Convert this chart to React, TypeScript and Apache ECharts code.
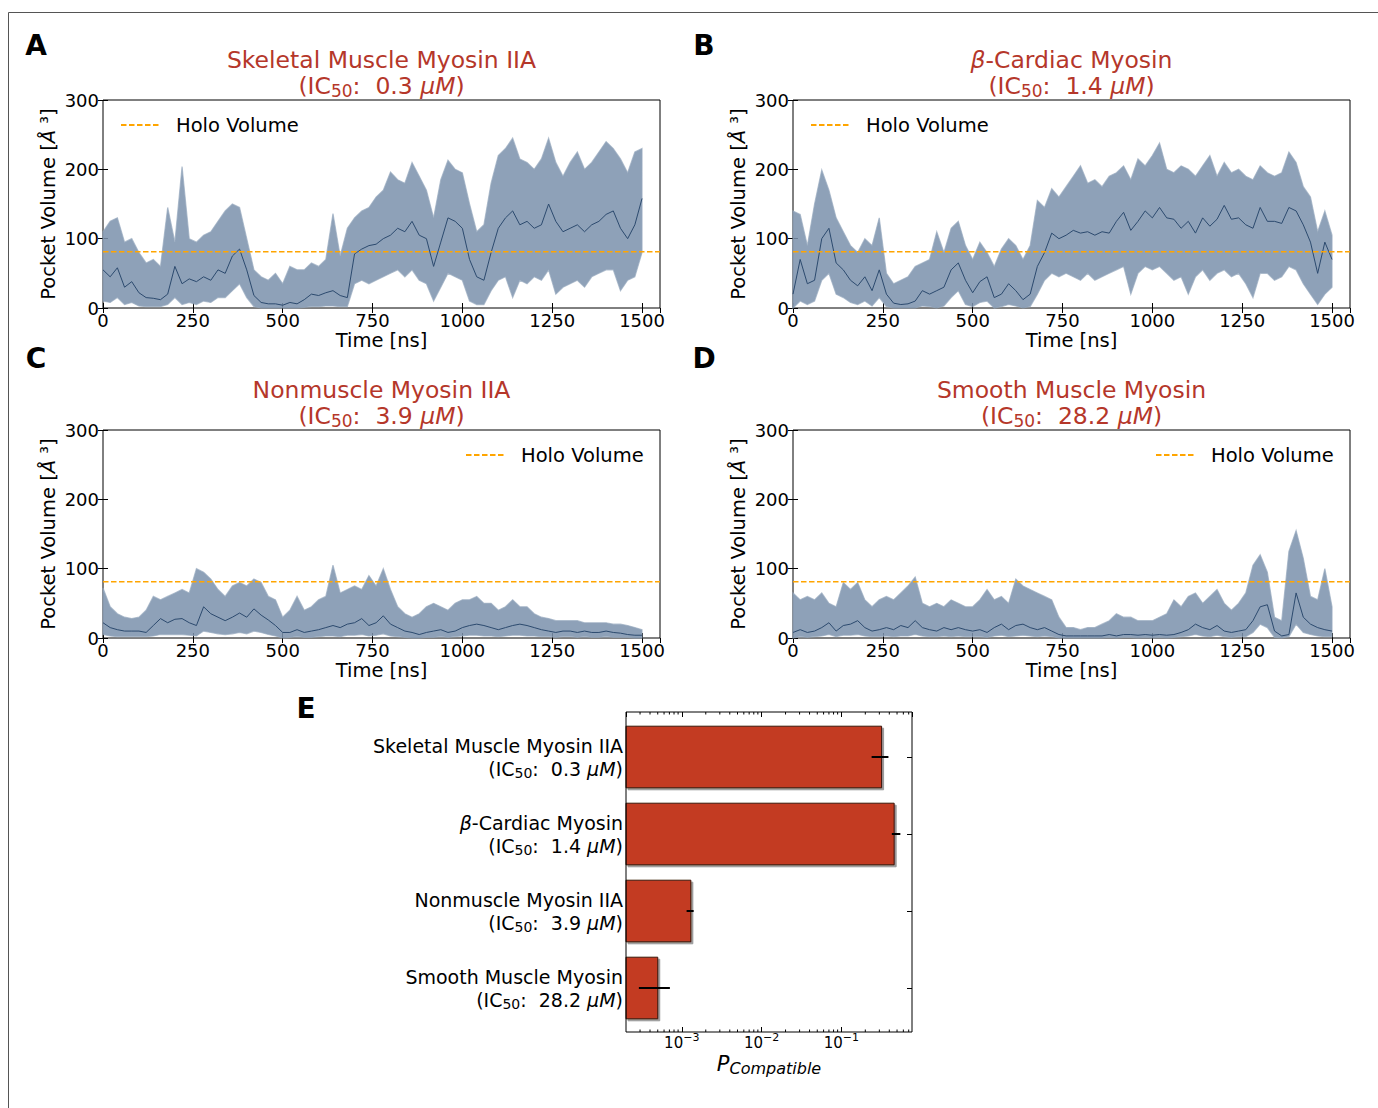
import React, { useEffect, useRef } from 'react';
import * as echarts from 'echarts';

// ---------- data ----------
const TIME_NS = [
  0, 20, 40, 60, 80, 100, 120, 140, 160, 180,
  200, 220, 240, 260, 280, 300, 320, 340, 360, 380,
  400, 420, 440, 460, 480, 500, 520, 540, 560, 580,
  600, 620, 640, 660, 680, 700, 720, 740, 760, 780,
  800, 820, 840, 860, 880, 900, 920, 940, 960, 980,
  1000, 1020, 1040, 1060, 1080, 1100, 1120, 1140, 1160, 1180,
  1200, 1220, 1240, 1260, 1280, 1300, 1320, 1340, 1360, 1380,
  1400, 1420, 1440, 1460, 1480, 1500,
];

const HOLO_VOLUME = 81;

// Panel A: Skeletal Muscle Myosin IIA
const A_MEAN = [
  55, 45, 58, 30, 38, 22, 15, 14, 12, 20,
  60, 35, 42, 38, 45, 40, 55, 50, 75, 85,
  55, 18, 8, 6, 6, 4, 8, 6, 12, 20,
  18, 22, 25, 18, 15, 78, 85, 90, 92, 100,
  105, 115, 110, 125, 105, 100, 60, 95, 130, 125,
  115, 70, 45, 40, 80, 115, 130, 140, 120, 125,
  115, 120, 150, 125, 110, 115, 120, 110, 120, 125,
  135, 140, 115, 100, 120, 158,
];
const A_HI = [
  110, 125, 130, 95, 100, 80, 65, 70, 60, 145,
  95, 204, 100, 95, 105, 110, 125, 140, 150, 145,
  100, 55, 45, 40, 50, 35, 60, 55, 55, 65,
  60, 70, 136, 75, 115, 130, 140, 145, 160, 170,
  196, 185, 180, 210, 190, 170, 130, 185, 213, 200,
  195, 150, 110, 120, 180, 220, 230, 245, 215, 210,
  200, 215, 245, 210, 190, 210, 225, 200, 210, 225,
  240, 230, 215, 195, 225, 230,
];
const A_LO = [
  10, 8, 15, 5, 8, 3, 2, 2, 2, 5,
  15, 5, 8, 5, 10, 8, 15, 15, 25, 35,
  15, 2, 0, 0, 0, 0, 0, 0, 1, 2,
  2, 3, 3, 2, 2, 35, 40, 35, 40, 45,
  50, 55, 45, 55, 40, 35, 10, 30, 50, 45,
  40, 10, 5, 5, 25, 40, 45, 15, 40, 35,
  45, 40, 55, 20, 30, 35, 40, 30, 45, 50,
  55, 55, 25, 40, 45, 80,
];

// Panel B: beta-Cardiac Myosin
const B_MEAN = [
  20, 70, 35, 40, 100, 115, 65, 55, 40, 32,
  45, 25, 55, 20, 7, 5, 6, 10, 25, 20,
  25, 30, 55, 65, 40, 22, 38, 45, 15, 20,
  35, 25, 12, 20, 60, 80, 108, 100, 105, 112,
  108, 110, 105, 110, 108, 125, 138, 112, 125, 140,
  130, 145, 130, 128, 115, 125, 108, 130, 118, 128,
  148, 128, 130, 120, 115, 145, 125, 125, 122, 145,
  140, 120, 95, 50, 95, 70,
];
const B_HI = [
  140, 135, 90, 150, 199, 170, 130, 110, 90, 80,
  100, 90, 130, 50, 35, 40, 45, 60, 65, 70,
  110, 80, 115, 125, 90, 70, 95, 80, 60, 85,
  100, 90, 70, 90, 155, 145, 172, 160, 175, 190,
  205, 180, 185, 175, 190, 195, 205, 185, 215, 205,
  220, 238, 200, 195, 205, 200, 190, 205, 220, 190,
  210, 195, 200, 190, 185, 205, 195, 190, 195, 225,
  210, 175, 160, 110, 140, 105,
];
const B_LO = [
  0, 10, 5, 10, 40, 50, 20, 15, 8, 5,
  10, 3, 15, 2, 0, 0, 0, 0, 3, 2,
  0, 3, 15, 25, 5, 2, 8, 10, 0, 2,
  5, 3, 0, 2, 20, 40, 50, 45, 50, 45,
  40, 50, 40, 45, 50, 55, 60, 20, 50, 60,
  55, 60, 50, 40, 45, 20, 45, 55, 40, 50,
  55, 45, 50, 35, 15, 50, 50, 40, 45, 60,
  55, 35, 20, 5, 20, 30,
];

// Panel C: Nonmuscle Myosin IIA
const C_MEAN = [
  22, 15, 12, 10, 10, 10, 8, 18, 28, 22,
  27, 28, 22, 18, 45, 35, 30, 25, 30, 36,
  30, 42, 33, 26, 18, 8, 8, 12, 8, 10,
  12, 15, 18, 15, 20, 22, 28, 18, 22, 32,
  20, 15, 10, 8, 5, 8, 10, 12, 8, 10,
  15, 18, 20, 18, 15, 12, 15, 18, 20, 18,
  15, 12, 10, 8, 10, 10, 8, 10, 8, 8,
  10, 8, 7, 5, 4, 4,
];
const C_HI = [
  72, 45, 35, 30, 28, 30, 40, 60, 55, 60,
  65, 70, 65, 100, 95, 85, 70, 60, 75, 80,
  75, 85, 80, 60, 55, 30, 40, 60, 40, 45,
  55, 60, 105, 65, 70, 75, 70, 90, 75, 100,
  70, 45, 35, 30, 35, 45, 50, 45, 40, 50,
  55, 55, 60, 50, 50, 40, 45, 55, 45, 45,
  35, 30, 28, 25, 25, 25, 25, 22, 22, 22,
  22, 20, 20, 18, 15, 12,
];
const C_LO = [
  5, 3, 2, 2, 2, 2, 2, 3, 5, 5,
  5, 5, 4, 3, 10, 8, 6, 5, 6, 8,
  6, 10, 8, 5, 3, 0, 1, 2, 1, 1,
  2, 3, 3, 2, 4, 4, 5, 3, 4, 6,
  3, 2, 1, 0, 0, 1, 1, 2, 1, 2,
  3, 4, 4, 3, 3, 2, 3, 4, 4, 3,
  3, 2, 2, 1, 2, 2, 1, 2, 1, 1,
  2, 1, 1, 1, 0, 0,
];

// Panel D: Smooth Muscle Myosin
const D_MEAN = [
  8, 12, 8, 10, 15, 22, 10, 18, 20, 25,
  15, 10, 12, 15, 12, 18, 15, 25, 15, 12,
  10, 15, 12, 15, 12, 10, 12, 8, 15, 20,
  12, 18, 20, 15, 12, 15, 10, 5, 3, 3,
  3, 3, 3, 3, 5, 3, 5, 5, 4, 5,
  4, 5, 4, 5, 8, 12, 20, 15, 12, 18,
  10, 8, 10, 12, 25, 45, 48, 10, 3, 5,
  65, 30, 20, 15, 12, 10,
];
const D_HI = [
  65, 55, 60, 55, 65, 50, 45, 80, 70, 80,
  55, 45, 55, 60, 55, 65, 75, 88, 50, 45,
  50, 45, 55, 50, 45, 45, 55, 70, 55, 60,
  50, 85, 75, 70, 65, 60, 55, 30, 15, 15,
  12, 15, 15, 20, 25, 35, 30, 30, 25, 25,
  25, 30, 35, 55, 45, 60, 65, 50, 60, 70,
  50, 40, 50, 65, 105, 120, 95, 30, 25, 125,
  155, 115, 60, 55, 100, 45,
];
const D_LO = [
  0, 2, 1, 2, 3, 5, 2, 4, 4, 5,
  3, 2, 2, 3, 2, 3, 3, 5, 3, 2,
  2, 3, 2, 3, 2, 2, 2, 1, 3, 4,
  2, 3, 4, 3, 2, 3, 2, 0, 0, 0,
  0, 0, 0, 0, 1, 0, 1, 1, 0, 1,
  0, 1, 0, 1, 2, 3, 5, 3, 2, 4,
  2, 1, 2, 2, 8, 20, 15, 1, 0, 2,
  20, 8, 5, 3, 2, 2,
];

// Panel E: compatibility probability
const CATEGORY_NAMES = ['Skeletal Muscle Myosin IIA', 'β-Cardiac Myosin', 'Nonmuscle Myosin IIA', 'Smooth Muscle Myosin'];
const IC50_UM = ['0.3', '1.4', '3.9', '28.2'];
const P_COMPATIBLE = [0.32, 0.46, 0.0013, 0.0005];
const P_ERR_LO = [0.24, 0.43, 0.00115, 0.00029];
const P_ERR_HI = [0.39, 0.55, 0.00141, 0.00071];
const MINOR_MULTIPLIERS = [2, 3, 4, 5, 6, 7, 8, 9];
const MINOR_DECADES = [1e-4, 1e-3, 1e-2, 1e-1];

// axis ranges
const X_MIN = 0, X_MAX = 1550, X_INTERVAL = 250;
const Y_MIN = 0, Y_MAX = 300, Y_INTERVAL = 100;
const P_MIN = 2e-4, P_MAX = 0.77;

// ---------- styling ----------
const FONT = 'DejaVu Sans';
const TITLE_COLOR = '#b5372a';
const BAR_COLOR = '#c33b22';
const BAND_COLOR = 'rgba(124,145,172,0.86)';
const BAND_EDGE = 'rgba(150,168,190,0.7)';
const MEAN_COLOR = '#2c4a6e';
const HOLO_COLOR = '#ffa500';

const PANELS = [
  { letter: 'A', name: 'Skeletal Muscle Myosin IIA', ic50: '0.3', mean: A_MEAN, hi: A_HI, lo: A_LO },
  { letter: 'B', name: 'β-Cardiac Myosin', ic50: '1.4', mean: B_MEAN, hi: B_HI, lo: B_LO },
  { letter: 'C', name: 'Nonmuscle Myosin IIA', ic50: '3.9', mean: C_MEAN, hi: C_HI, lo: C_LO },
  { letter: 'D', name: 'Smooth Muscle Myosin', ic50: '28.2', mean: D_MEAN, hi: D_HI, lo: D_LO },
];

const LAYOUT = [
  { left: 103, top: 100, legendLeft: 120, letterX: 36, letterY: 45 },
  { left: 793, top: 100, legendLeft: 810, letterX: 704, letterY: 45 },
  { left: 103, top: 430, legendLeft: 465, letterX: 36, letterY: 358 },
  { left: 793, top: 430, legendLeft: 1155, letterX: 704, letterY: 358 },
];
const PLOT_W = 557, PLOT_H = 208;
const E_FRAME = { x: 626, y: 712, w: 286, h: 320 };

const richName = (s: string) => s.replace('β', '{i|β}');

function buildOption() {
  const grid: any[] = [];
  const xAxis: any[] = [];
  const yAxis: any[] = [];
  const series: any[] = [];
  const legend: any[] = [];
  const title: any[] = [];
  const graphic: any[] = [];

  PANELS.forEach((p, i) => {
    const L = LAYOUT[i];
    grid.push({ left: L.left, top: L.top, width: PLOT_W, height: PLOT_H, show: true, borderColor: '#000', borderWidth: 1, backgroundColor: 'transparent' });
    const tick = { show: true, inside: true, length: 5, lineStyle: { color: '#000', width: 1 } };
    xAxis.push({
      type: 'value', gridIndex: i, min: X_MIN, max: X_MAX, interval: X_INTERVAL, position: 'bottom',
      axisLine: { show: false }, axisTick: tick, splitLine: { show: false },
      axisLabel: { fontSize: 18, color: '#000', margin: 3, showMaxLabel: false, fontFamily: FONT, formatter: (v: number) => String(v) },
      name: 'Time [ns]', nameLocation: 'middle', nameGap: 22,
      nameTextStyle: { fontSize: 19.5, color: '#000', fontFamily: FONT },
    });
    xAxis.push({
      type: 'value', gridIndex: i, min: X_MIN, max: X_MAX, interval: X_INTERVAL, position: 'top',
      axisLine: { show: false }, axisTick: tick, splitLine: { show: false }, axisLabel: { show: false },
    });
    yAxis.push({
      type: 'value', gridIndex: i, min: Y_MIN, max: Y_MAX, interval: Y_INTERVAL, position: 'left',
      axisLine: { show: false }, axisTick: tick, splitLine: { show: false },
      axisLabel: { fontSize: 18, color: '#000', margin: 4, fontFamily: FONT, formatter: (v: number) => String(v) },
      name: 'Pocket Volume [{i|Å} ³]', nameLocation: 'middle', nameGap: 45, nameRotate: 90,
      nameTextStyle: {
        fontSize: 19.5, color: '#000', fontFamily: FONT,
        rich: { i: { fontStyle: 'italic', fontSize: 19.5, color: '#000', fontFamily: FONT } },
      },
    });
    yAxis.push({
      type: 'value', gridIndex: i, min: Y_MIN, max: Y_MAX, interval: Y_INTERVAL, position: 'right',
      axisLine: { show: false }, axisTick: tick, splitLine: { show: false }, axisLabel: { show: false },
    });

    const xi = 2 * i, yi = 2 * i;
    // raw-trajectory envelope drawn as a polygon through the axes' scales
    series.push({
      type: 'custom', xAxisIndex: xi, yAxisIndex: yi, z: 1, silent: true,
      data: [[TIME_NS[0], p.lo[0]]], encode: { x: 0, y: 1 },
      renderItem: (params: any, api: any) => {
        const pts: number[][] = [];
        TIME_NS.forEach((t, k) => pts.push(api.coord([t, p.hi[k]])));
        for (let k = TIME_NS.length - 1; k >= 0; k--) pts.push(api.coord([TIME_NS[k], p.lo[k]]));
        return { type: 'polygon', shape: { points: pts }, style: { fill: BAND_COLOR, stroke: BAND_EDGE, lineWidth: 1.2 } };
      },
    });
    series.push({
      type: 'line', xAxisIndex: xi, yAxisIndex: yi, symbol: 'none', silent: true, z: 3,
      data: TIME_NS.map((t, k) => [t, p.mean[k]]),
      lineStyle: { width: 1, color: MEAN_COLOR },
    });
    series.push({
      type: 'line', name: 'Holo Volume', xAxisIndex: xi, yAxisIndex: yi, symbol: 'none', silent: true, z: 4,
      data: [[X_MIN, HOLO_VOLUME], [X_MAX, HOLO_VOLUME]],
      lineStyle: { width: 1.5, color: HOLO_COLOR, type: [5.5, 2.5] },
      itemStyle: { color: HOLO_COLOR },
    });

    legend.push({
      data: ['Holo Volume'], left: L.legendLeft, top: L.top + 15, padding: 0, itemWidth: 40, itemHeight: 14,
      selectedMode: false,
      itemStyle: { opacity: 0 },
      textStyle: { fontSize: 19.5, color: '#000', fontFamily: FONT, padding: [0, 0, 0, 10] },
    });

    title.push({
      text: `${richName(p.name)}\n(IC{sub|50}:  ${p.ic50} {i|μM})`,
      left: L.left + PLOT_W / 2, top: L.top - 53, textAlign: 'center', padding: 0,
      textStyle: {
        fontSize: 23.5, fontWeight: 'normal', color: TITLE_COLOR, fontFamily: FONT, lineHeight: 26,
        rich: {
          i: { fontStyle: 'italic', fontSize: 23.5, color: TITLE_COLOR, fontFamily: FONT, lineHeight: 26 },
          sub: { fontSize: 17, color: TITLE_COLOR, fontFamily: FONT, lineHeight: 10, verticalAlign: 'bottom' },
        },
      },
    });

    graphic.push({
      type: 'text', x: L.letterX, y: L.letterY, z: 20,
      style: { text: p.letter, font: `bold 28px "${FONT}"`, fill: '#000', align: 'center', verticalAlign: 'middle' },
    });
  });

  // ---------- panel E ----------
  const gE = grid.length;
  grid.push({ left: E_FRAME.x, top: E_FRAME.y + 6.5, width: E_FRAME.w, height: E_FRAME.h - 12 });
  const eTick = { show: true, inside: true, length: 5, lineStyle: { color: '#000', width: 1 } };
  const logFmt = (v: number) => {
    const e = Math.round(Math.log10(v));
    return '{b|10}{e|' + String(e).replace('-', '−') + '}';
  };
  const xE = xAxis.length;
  xAxis.push({
    type: 'log', logBase: 10, gridIndex: gE, min: P_MIN, max: P_MAX, position: 'bottom', offset: 5.5,
    axisLine: { show: false }, axisTick: eTick, splitLine: { show: false },
    axisLabel: {
      color: '#000', margin: 0, fontFamily: FONT, formatter: logFmt, showMinLabel: false, showMaxLabel: false,
      rich: {
        b: { fontSize: 15, lineHeight: 22, color: '#000', fontFamily: FONT },
        e: { fontSize: 11, lineHeight: 11, color: '#000', fontFamily: FONT, verticalAlign: 'top' },
      },
    },
    name: '{p|P}{s|Compatible}', nameLocation: 'middle', nameGap: 20,
    nameTextStyle: {
      fontFamily: FONT, color: '#000',
      rich: {
        p: { fontStyle: 'italic', fontSize: 21, lineHeight: 24, color: '#000', fontFamily: FONT },
        s: { fontStyle: 'italic', fontSize: 16, lineHeight: 17, color: '#000', fontFamily: FONT, verticalAlign: 'bottom' },
      },
    },
  });
  xAxis.push({
    type: 'log', logBase: 10, gridIndex: gE, min: P_MIN, max: P_MAX, position: 'top', offset: 6.5,
    axisLine: { show: false }, axisTick: eTick, splitLine: { show: false }, axisLabel: { show: false },
  });
  const yE = yAxis.length;
  yAxis.push({
    type: 'category', gridIndex: gE, data: CATEGORY_NAMES, inverse: true, position: 'left',
    axisLine: { show: false }, axisTick: { ...eTick, alignWithLabel: true }, splitLine: { show: false },
    axisLabel: {
      fontSize: 19, color: '#000', fontFamily: FONT, lineHeight: 23, margin: 3, align: 'right',
      formatter: (name: string, idx: number) => `${richName(name)}\n(IC{sub|50}:  ${IC50_UM[idx]} {i|μM})`,
      rich: {
        i: { fontStyle: 'italic', fontSize: 19, lineHeight: 23, color: '#000', fontFamily: FONT },
        sub: { fontSize: 14, lineHeight: 10, color: '#000', fontFamily: FONT, verticalAlign: 'bottom' },
      },
    },
  });
  yAxis.push({
    type: 'category', gridIndex: gE, data: CATEGORY_NAMES, inverse: true, position: 'right',
    axisLine: { show: false }, axisTick: { ...eTick, alignWithLabel: true }, splitLine: { show: false }, axisLabel: { show: false },
  });

  series.push({
    type: 'custom', xAxisIndex: xE, yAxisIndex: yE, z: 5, silent: true,
    data: P_COMPATIBLE.map((v, k) => [v, k]),
    encode: { x: 0, y: 1 },
    renderItem: (params: any, api: any) => {
      const c = api.value(1);
      const start = api.coord([P_MIN, c]);
      const end = api.coord([api.value(0), c]);
      const h = api.size([0, 1])[1] * 0.8;
      return {
        type: 'rect',
        shape: { x: start[0], y: start[1] - h / 2, width: end[0] - start[0], height: h },
        style: { fill: BAR_COLOR, stroke: '#3a140a', lineWidth: 1, shadowColor: 'rgba(0,0,0,0.4)', shadowOffsetX: 2, shadowOffsetY: 2, shadowBlur: 1 },
      };
    },
  });
  series.push({
    type: 'custom', xAxisIndex: xE, yAxisIndex: yE, z: 6, silent: true,
    data: P_ERR_LO.map((lo, k) => [lo, P_ERR_HI[k], k]),
    encode: { x: [0, 1], y: 2 },
    renderItem: (params: any, api: any) => {
      const c = api.value(2);
      const a = api.coord([api.value(0), c]);
      const b = api.coord([api.value(1), c]);
      return { type: 'line', shape: { x1: a[0], y1: a[1], x2: b[0], y2: b[1] }, style: { stroke: '#000', lineWidth: 2 } };
    },
  });
  const minorTicks: number[][] = [];
  MINOR_DECADES.forEach((d) => MINOR_MULTIPLIERS.forEach((m) => {
    const v = m * d;
    if (v > P_MIN && v < P_MAX) minorTicks.push([v, 0]);
  }));
  series.push({
    type: 'custom', xAxisIndex: xE, yAxisIndex: yE, z: 7, silent: true,
    data: minorTicks, encode: { x: 0, y: 1 },
    renderItem: (params: any, api: any) => {
      const x = api.coord([api.value(0), 0])[0];
      const top = E_FRAME.y, bot = E_FRAME.y + E_FRAME.h;
      return {
        type: 'group',
        children: [
          { type: 'line', shape: { x1: x, y1: bot, x2: x, y2: bot - 2.5 }, style: { stroke: '#000', lineWidth: 1 } },
          { type: 'line', shape: { x1: x, y1: top, x2: x, y2: top + 2.5 }, style: { stroke: '#000', lineWidth: 1 } },
        ],
      };
    },
  });

  graphic.push({
    type: 'rect', z: 20, silent: true,
    shape: { x: E_FRAME.x, y: E_FRAME.y, width: E_FRAME.w, height: E_FRAME.h },
    style: { fill: 'none', stroke: '#000', lineWidth: 1 },
  });
  graphic.push({
    type: 'text', x: 306, y: 708, z: 20,
    style: { text: 'E', font: `bold 28px "${FONT}"`, fill: '#000', align: 'center', verticalAlign: 'middle' },
  });
  // figure frame lines
  graphic.push({ type: 'line', z: 20, silent: true, shape: { x1: 8.5, y1: 12.5, x2: 1378, y2: 12.5 }, style: { stroke: '#555', lineWidth: 1 } });
  graphic.push({ type: 'line', z: 20, silent: true, shape: { x1: 8.5, y1: 12.5, x2: 8.5, y2: 1108 }, style: { stroke: '#555', lineWidth: 1 } });

  return {
    animation: false,
    backgroundColor: '#fff',
    textStyle: { fontFamily: FONT },
    title, legend, grid, xAxis, yAxis, series, graphic,
  };
}

export default function App() {
  const ref = useRef<HTMLDivElement>(null);
  useEffect(() => {
    if (!ref.current) return;
    const chart = echarts.init(ref.current, null, { renderer: 'svg' });
    chart.setOption(buildOption() as any);
    return () => chart.dispose();
  }, []);
  return <div ref={ref} style={{ position: 'absolute', left: 0, top: 0, width: 1378, height: 1108 }} />;
}
